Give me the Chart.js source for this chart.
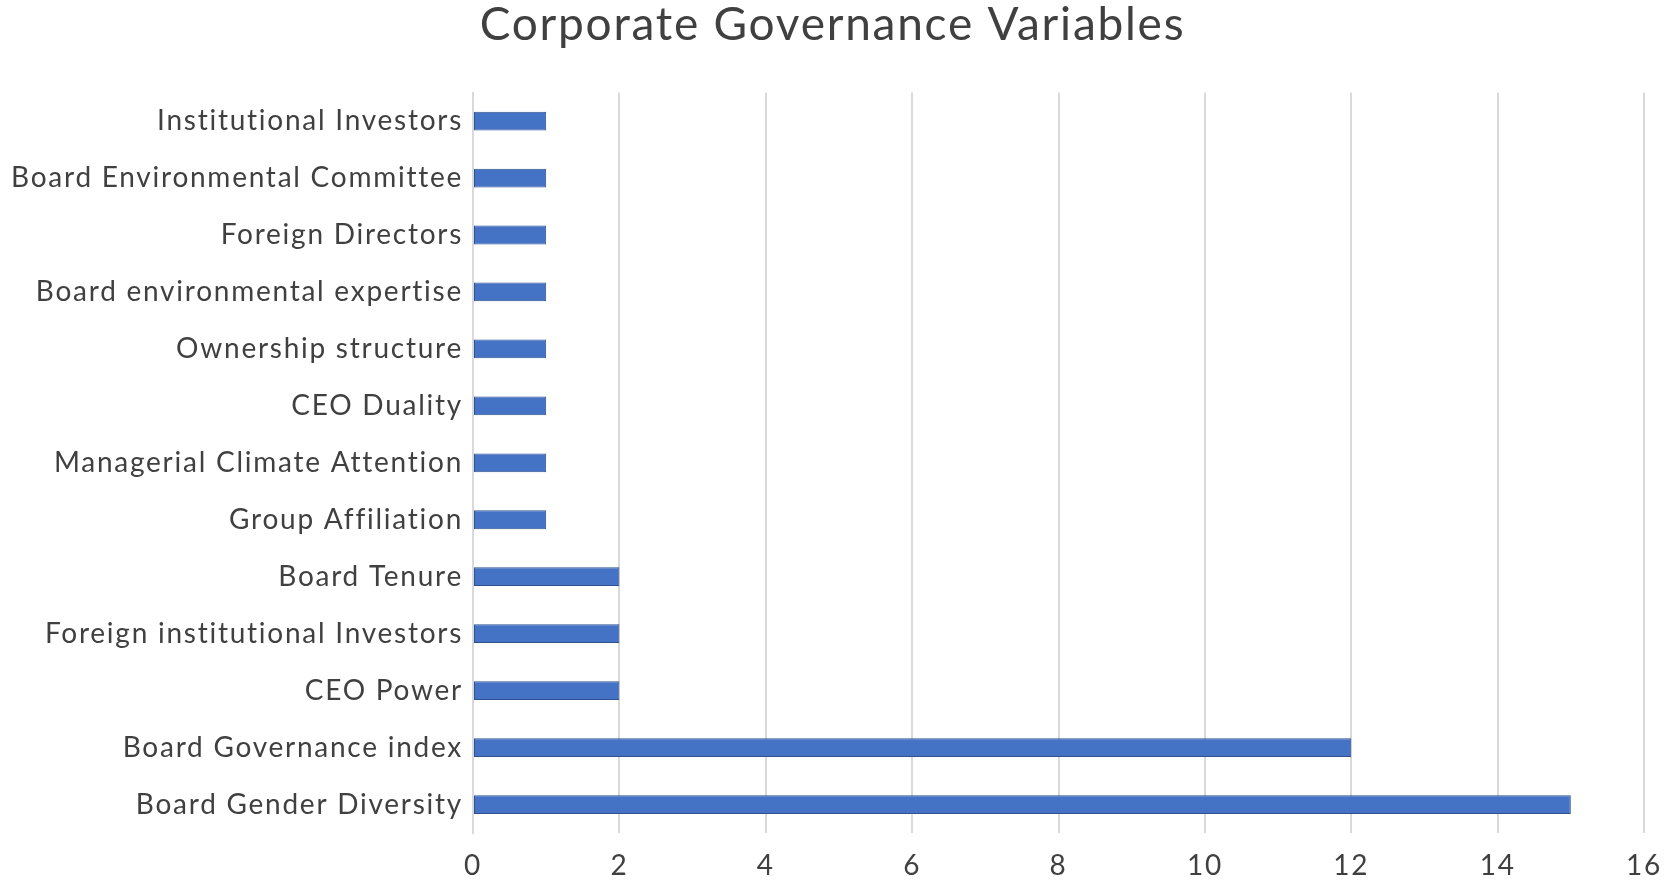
<!DOCTYPE html>
<html>
<head>
<meta charset="utf-8">
<script src="https://cdn.jsdelivr.net/npm/chart.js@4"></script>
<style>
  html, body { margin: 0; padding: 0; background: #ffffff; }
  #wrap { width: 1665px; height: 885px; }
</style>
</head>
<body>
<div id="wrap"><canvas id="c" width="1665" height="885"></canvas></div>
<script>
const chartTitle = "Corporate Governance Variables";
const categories = [
  "Institutional Investors",
  "Board Environmental Committee",
  "Foreign Directors",
  "Board environmental expertise",
  "Ownership structure",
  "CEO Duality",
  "Managerial Climate Attention",
  "Group Affiliation",
  "Board Tenure",
  "Foreign institutional Investors",
  "CEO Power",
  "Board Governance index",
  "Board Gender Diversity"
];
const counts = [1, 1, 1, 1, 1, 1, 1, 1, 2, 2, 2, 12, 15];
const xMin = 0, xMax = 16, xStep = 2;

const textColor = "#404040";
const font = "Lato, 'Open Sans', sans-serif";

const spacingPlugin = {
  id: "spacing",
  beforeDraw(chart) { chart.ctx.letterSpacing = "1.75px"; }
};

new Chart(document.getElementById("c"), {
  type: "bar",
  plugins: [spacingPlugin],
  data: {
    labels: categories,
    datasets: [{
      data: counts,
      backgroundColor: "#4472C4",
      borderColor: "#2F528F",
      borderWidth: 1,
      borderSkipped: false,
      categoryPercentage: 1,
      barPercentage: 0.33
    }]
  },
  options: {
    indexAxis: "y",
    responsive: false,
    animation: false,
    devicePixelRatio: 1,
    layout: { padding: 0 },
    plugins: {
      legend: { display: false },
      tooltip: { enabled: false },
      title: {
        display: true,
        text: chartTitle,
        color: textColor,
        font: { family: font, size: 46, weight: "normal", lineHeight: 1.1 },
        padding: { top: 0, bottom: 42 }
      }
    },
    scales: {
      x: {
        min: xMin, max: xMax,
        ticks: {
          stepSize: xStep,
          color: textColor,
          font: { family: font, size: 28 },
          padding: 16
        },
        grid: { color: "#D9D9D9", lineWidth: 2, drawTicks: false },
        border: { display: false },
        afterFit: s => { s.height = 52; s.paddingLeft = 0; s.paddingRight = 21; }
      },
      y: {
        ticks: {
          color: textColor,
          font: { family: font, size: 28 },
          padding: 10,
          autoSkip: false
        },
        grid: { display: false, drawTicks: false },
        border: { display: true, color: "#D9D9D9", width: 2 },
        afterFit: s => { s.width = 473; s.paddingTop = 0; s.paddingBottom = 0; }
      }
    }
  }
});
</script>
</body>
</html>
